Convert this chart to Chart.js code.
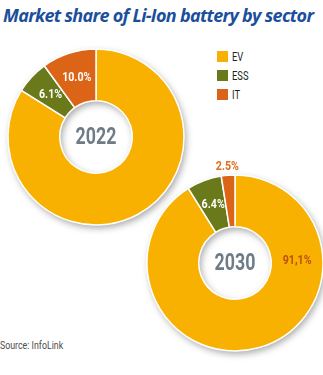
<!DOCTYPE html>
<html>
<head>
<meta charset="utf-8">
<script src="https://cdn.jsdelivr.net/npm/chart.js@4/dist/chart.umd.min.js"></script>
<style>
  html, body { margin: 0; padding: 0; background: #fff; overflow: hidden; }
  #wrap { position: relative; width: 323px; height: 375px; overflow: hidden; }
  #title {
    position: absolute; left: 3px; top: 3px; white-space: nowrap;
    font: italic bold 18px "Open Sans", sans-serif; color: #1b4f9c; letter-spacing: -0.7px;
  }
  #legend { position: absolute; left: 217px; top: 51px; }
  .item { height: 19px; display: flex; align-items: flex-start; }
  .box { width: 11px; height: 11px; margin-right: 4px; }
  .item span {
    display: inline-block; transform: scaleX(0.72); transform-origin: 0 0;
    font: 13px Roboto, sans-serif; color: #231f20; line-height: 11px;
  }
  #source {
    position: absolute; left: 0; top: 339px; white-space: nowrap;
    transform: scaleX(0.8); transform-origin: 0 0;
    font: 11px Roboto, sans-serif; color: #4d4d4d;
  }
  canvas { position: absolute; }
  #c2022 { left: -14px; top: 27px; }
  #c2030 { left: 125px; top: 153px; }
</style>
</head>
<body>
<div id="wrap">
  <div id="title">Market share of Li-Ion battery by sector</div>
  <canvas id="c2022" width="220" height="220"></canvas>
  <canvas id="c2030" width="220" height="220"></canvas>
  <div id="legend"></div>
  <div id="source">Source: InfoLink</div>
</div>
<script>
const sectors = ["EV", "ESS", "IT"];
const sectorColors = ["#f8b100", "#6a7a1b", "#dc6417"];

const share2022 = [83.9, 6.1, 10.0];
const labels2022 = ["", "6.1%", "10.0%"];

const share2030 = [91.1, 6.4, 2.5];
const labels2030 = ["91,1%", "6.4%", "2.5%"];

// legend
const legend = document.getElementById("legend");
sectors.forEach((s, i) => {
  const row = document.createElement("div");
  row.className = "item";
  row.innerHTML = '<div class="box" style="background:' + sectorColors[i] + '"></div><span>' + s + "</span>";
  legend.appendChild(row);
});

// soft drop shadow under the ring
const ringShadow = {
  id: "ringShadow",
  beforeDatasetsDraw(chart) {
    const a = chart.getDatasetMeta(0).data[0];
    const ctx = chart.ctx;
    ctx.save();
    ctx.shadowColor = "rgba(0,0,0,0.35)";
    ctx.shadowBlur = 7;
    ctx.shadowOffsetX = 2;
    ctx.shadowOffsetY = 3;
    ctx.beginPath();
    ctx.arc(a.x, a.y, a.outerRadius, 0, Math.PI * 2);
    ctx.arc(a.x, a.y, a.innerRadius, 0, Math.PI * 2, true);
    ctx.fillStyle = "#fff";
    ctx.fill();
    ctx.restore();
  },
};

// condensed text: squeeze horizontally
function narrowText(ctx, txt, x, y, sx) {
  ctx.save();
  ctx.translate(x, y);
  ctx.scale(sx, 1);
  ctx.fillText(txt, 0, 0);
  ctx.restore();
}

// percentage labels + year in the middle
const sliceLabels = {
  id: "sliceLabels",
  afterDatasetsDraw(chart, args, opts) {
    const ctx = chart.ctx;
    const arcs = chart.getDatasetMeta(0).data;
    ctx.save();
    ctx.textAlign = "center";
    ctx.textBaseline = "middle";
    arcs.forEach((a, i) => {
      const txt = opts.texts[i];
      if (!txt) return;
      const place = opts.place[i];
      let ang = (a.startAngle + a.endAngle) / 2;
      let r = (a.innerRadius + a.outerRadius) / 2;
      if (place === "out") r = a.outerRadius + 9;
      if (typeof place === "number") ang = (place - 90) * Math.PI / 180;
      ctx.font = "bold 13px Roboto, sans-serif";
      ctx.fillStyle = opts.colors[i];
      narrowText(ctx, txt, a.x + r * Math.cos(ang), a.y + r * Math.sin(ang), 0.82);
    });
    const a0 = arcs[0];
    ctx.font = "bold 24px Roboto, sans-serif";
    ctx.fillStyle = "#6e7c88";
    narrowText(ctx, opts.year, a0.x, a0.y + 1, 0.74);
    ctx.restore();
  },
};

function makeDonut(id, values, texts, place, colors, year) {
  return new Chart(document.getElementById(id), {
    type: "doughnut",
    data: {
      labels: sectors,
      datasets: [
        {
          data: values,
          backgroundColor: sectorColors,
          borderColor: "#fff",
          borderWidth: 1.5,
        },
      ],
    },
    options: {
      responsive: false,
      animation: false,
      devicePixelRatio: 1,
      radius: 88,
      cutout: 45,
      plugins: {
        legend: { display: false },
        tooltip: { enabled: false },
        sliceLabels: { texts: texts, place: place, colors: colors, year: year },
      },
    },
    plugins: [ringShadow, sliceLabels],
  });
}

makeDonut("c2022", share2022, labels2022, ["mid", "mid", "mid"], ["#fff", "#fff", "#fff"], "2022");
makeDonut("c2030", share2030, labels2030, [88, "mid", "out"], ["#b8520f", "#fff", "#e06a1e"], "2030");
</script>
</body>
</html>
